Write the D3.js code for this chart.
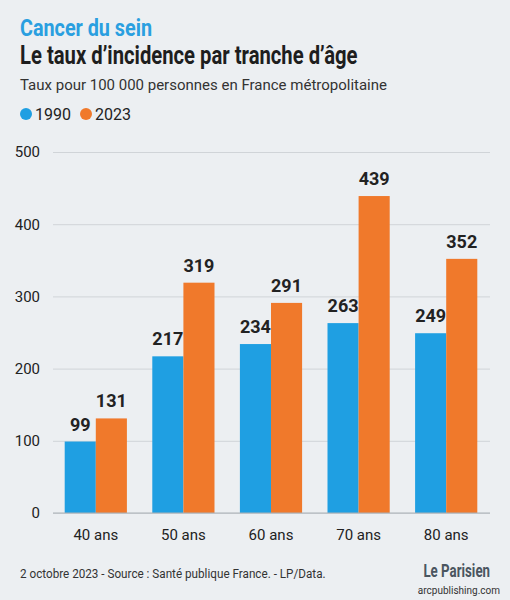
<!DOCTYPE html>
<html lang="fr">
<head>
<meta charset="UTF-8">
<script src="https://d3js.org/d3.v7.min.js"></script>
<style>
  body { margin: 0; background: #eceff2; }
  text { font-family: Roboto, sans-serif; }
</style>
</head>
<body>
<div id="container"></div>
<script>
const width = 510, height = 600;

const categories = ["40 ans", "50 ans", "60 ans", "70 ans", "80 ans"];
const series = ["1990", "2023"];
const values1990 = [99, 217, 234, 263, 249];
const values2023 = [131, 319, 291, 439, 352];
const yTicks = [0, 100, 200, 300, 400, 500];
const colors = ["#1f9fe2", "#f0792b"];

const svg = d3.select("#container").append("svg")
    .attr("width", width).attr("height", height);

svg.append("rect").attr("width", width).attr("height", height).attr("fill", "#eceff2");

// Titles (condensed look via horizontal scale)
svg.append("text").attr("transform", "translate(20,36) scale(0.86,1)")
    .attr("font-size", 23).attr("font-weight", 700).attr("fill", "#2a9fe0")
    .text("Cancer du sein");
svg.append("text").attr("transform", "translate(20,64) scale(0.81,1)")
    .attr("font-size", 25).attr("font-weight", 700).attr("fill", "#1e1e1e")
    .text("Le taux d’incidence par tranche d’âge");
svg.append("text").attr("x", 20).attr("y", 90)
    .attr("font-size", 15).attr("fill", "#333")
    .attr("textLength", 367).text("Taux pour 100 000 personnes en France métropolitaine");

// Legend
const legend = svg.append("g").attr("transform", "translate(20,114)");
let lx = 0;
series.forEach((s, i) => {
    legend.append("circle").attr("cx", lx + 6).attr("cy", 0).attr("r", 6).attr("fill", colors[i]);
    legend.append("text").attr("x", lx + 15).attr("y", 6).attr("font-size", 16).attr("fill", "#222").text(s);
    lx += 60;
});

// Scales
const x = d3.scaleBand().domain(categories).range([52, 490]).paddingInner(0.29).paddingOuter(0.145);
const xs = d3.scaleBand().domain(series).range([0, x.bandwidth()]);
const y = d3.scaleLinear().domain([0, 500]).range([513, 152]);

// Grid + y labels
const yAxis = svg.append("g").attr("transform", "translate(53,0)")
    .call(d3.axisLeft(y).tickValues(yTicks).tickSize(-437).tickPadding(13));
yAxis.select(".domain").remove();
yAxis.selectAll("line").attr("stroke", "#d0d4d8");
yAxis.selectAll("text").attr("font-size", 15).attr("fill", "#222").attr("font-family", "Roboto, sans-serif");

// Bars
const data = categories.map((c, i) => ({ c, v: [values1990[i], values2023[i]] }));
const groups = svg.selectAll(".grp").data(data).enter().append("g")
    .attr("transform", d => `translate(${x(d.c)},0)`);
groups.selectAll("rect").data(d => d.v.map((v, i) => ({ s: series[i], v, i })))
    .enter().append("rect")
    .attr("x", d => xs(d.s)).attr("width", xs.bandwidth())
    .attr("y", d => y(d.v)).attr("height", d => y(0) - y(d.v))
    .attr("fill", d => colors[d.i]);
groups.selectAll(".lbl").data(d => d.v.map((v, i) => ({ s: series[i], v })))
    .enter().append("text")
    .attr("x", d => xs(d.s) + xs.bandwidth() / 2).attr("y", d => y(d.v) - 11)
    .attr("text-anchor", "middle").attr("font-size", 18).attr("font-weight", 700).attr("fill", "#222")
    .text(d => d.v);

// Baseline
svg.append("line").attr("x1", 53).attr("x2", 490).attr("y1", y(0)).attr("y2", y(0)).attr("stroke", "#aab0b6");

// X labels
svg.selectAll(".xl").data(categories).enter().append("text")
    .attr("x", d => x(d) + x.bandwidth() / 2).attr("y", 540)
    .attr("text-anchor", "middle").attr("font-size", 15).attr("fill", "#222").text(d => d);

// Footer
svg.append("text").attr("transform", "translate(20,578) scale(0.9,1)")
    .attr("font-size", 13).attr("fill", "#333")
    .text("2 octobre 2023 - Source : Santé publique France. - LP/Data.");
svg.append("text").attr("transform", "translate(490,577) scale(0.7,1)").attr("text-anchor", "end")
    .attr("font-size", 19).attr("font-weight", 700).attr("fill", "#4a5560").text("Le Parisien");
svg.append("text").attr("x", 500).attr("y", 594).attr("text-anchor", "end")
    .attr("font-size", 10).attr("font-family", "DejaVu Sans Mono, monospace").attr("fill", "#333")
    .text("arcpublishing.com");
</script>
</body>
</html>
